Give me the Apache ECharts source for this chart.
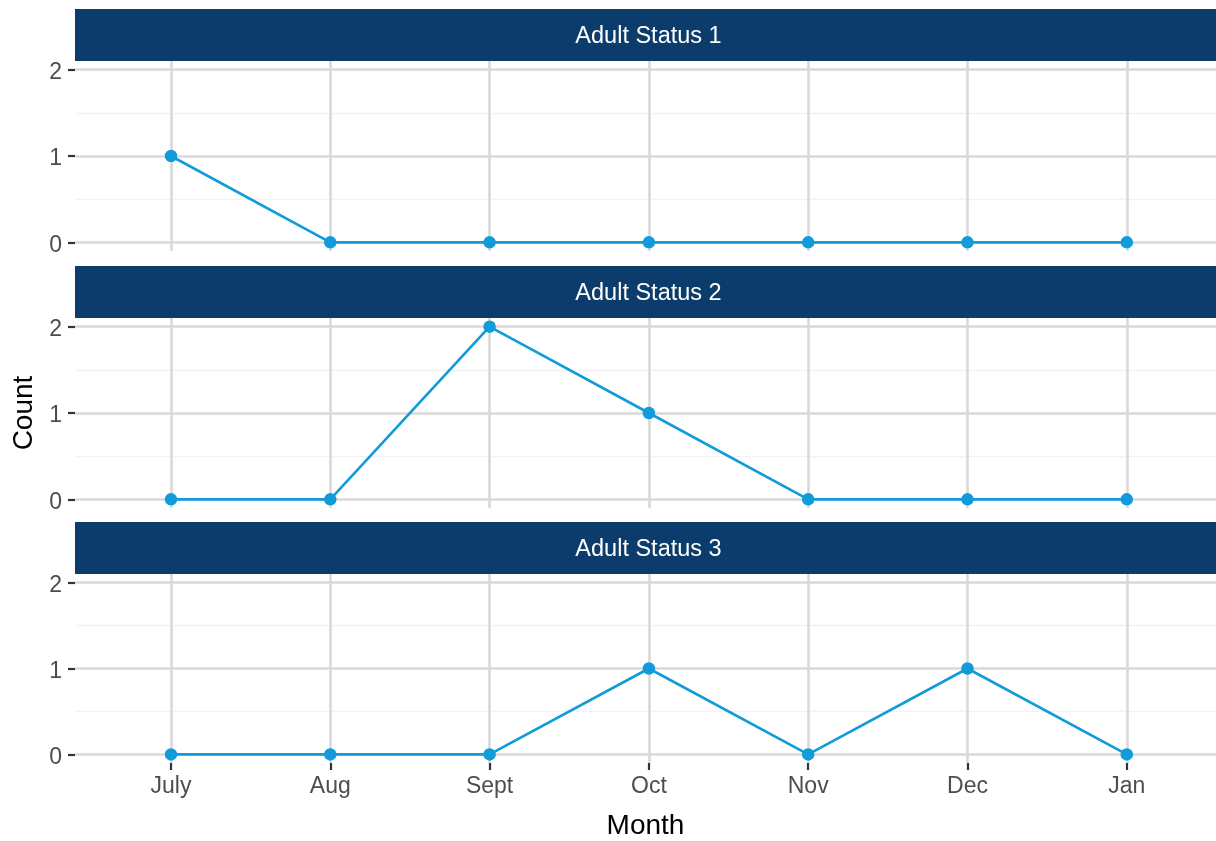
<!DOCTYPE html>
<html>
<head>
<meta charset="utf-8">
<script src="https://cdn.jsdelivr.net/npm/echarts@6/dist/echarts.min.js"></script>
<style>
html,body{margin:0;padding:0;background:#fff;}
#chart{width:1216px;height:841px;}
</style>
</head>
<body>
<div id="chart"></div>
<script>
// ---- data ----
var months = ['July', 'Aug', 'Sept', 'Oct', 'Nov', 'Dec', 'Jan'];
var panelTitles = ['Adult Status 1', 'Adult Status 2', 'Adult Status 3'];
var status1 = [1, 0, 0, 0, 0, 0, 0];
var status2 = [0, 0, 2, 1, 0, 0, 0];
var status3 = [0, 0, 0, 1, 0, 1, 0];
var yTicks = [0, 1, 2];
var yMinor = [0.5, 1.5];

var seriesValues = [status1, status2, status3];
var xIdx = months.map(function (m, i) { return i; });

// ---- layout ----
var FONT = '"Liberation Sans", Arial, Helvetica, sans-serif';
var LEFT = 75, PH = 190, STRIP = 52;
var tops = [61, 318, 574];
var LINE = '#129BDA';
var STRIP_COL = '#0B3C6C';

var grids = [], xAxes = [], yAxes = [], series = [], graphics = [];

tops.forEach(function (top, p) {
  var bottomPanel = p === tops.length - 1;
  grids.push({ left: LEFT, top: top, right: 0, height: PH, containLabel: false });
  xAxes.push({
    type: 'value', gridIndex: p, min: -0.6025, max: 6.56,
    axisLine: { show: false, onZero: false },
    splitLine: { show: false },
    axisTick: { show: bottomPanel, customValues: xIdx, length: 7, lineStyle: { color: '#333333', width: 2.2 } },
    axisLabel: {
      show: bottomPanel, customValues: xIdx, margin: 12,
      color: '#4D4D4D', fontSize: 23, fontFamily: FONT,
      formatter: function (v) { return months[Math.round(v)] || ''; }
    },
    name: bottomPanel ? 'Month' : '',
    nameLocation: 'middle', nameGap: 49,
    nameTextStyle: { color: '#000', fontSize: 28, fontFamily: FONT }
  });
  yAxes.push({
    type: 'value', gridIndex: p, min: -0.1, max: 2.1,
    axisLine: { show: false, onZero: false },
    splitLine: { show: false },
    axisTick: { show: true, customValues: yTicks, length: 7, lineStyle: { color: '#333333', width: 2.2 } },
    axisLabel: {
      customValues: yTicks, margin: 13,
      color: '#4D4D4D', fontSize: 23, fontFamily: FONT,
      formatter: function (v) { return '{v|' + Math.round(v) + '}'; },
      rich: { v: { color: '#4D4D4D', fontSize: 23, fontFamily: FONT, padding: [6, 0, 0, 0] } }
    },
    name: p === 1 ? 'Count' : '',
    nameLocation: 'middle', nameGap: 37, nameRotate: 90,
    nameTextStyle: { color: '#000', fontSize: 28, fontFamily: FONT }
  });

  // gridlines via markLine on a background series
  var ml = [];
  yMinor.forEach(function (v) { ml.push({ yAxis: v, lineStyle: { color: '#F2F2F2', width: 1.4, type: 'solid' } }); });
  yTicks.forEach(function (v) { ml.push({ yAxis: v, lineStyle: { color: '#D9D9D9', width: 2.6, type: 'solid' } }); });
  xIdx.forEach(function (v) { ml.push({ xAxis: v, lineStyle: { color: '#D9D9D9', width: 2.6, type: 'solid' } }); });
  series.push({
    type: 'line', xAxisIndex: p, yAxisIndex: p, z: 1,
    data: [[0, 0]], symbol: 'none', lineStyle: { opacity: 0 }, silent: true,
    markLine: {
      silent: true, symbol: ['none', 'none'], label: { show: false },
      animation: false, lineStyle: { type: 'solid' }, data: ml
    }
  });

  series.push({
    type: 'line', xAxisIndex: p, yAxisIndex: p, z: 5,
    data: seriesValues[p].map(function (v, i) { return [i, v]; }),
    symbol: 'circle', symbolSize: 12.5,
    itemStyle: { color: LINE },
    lineStyle: { color: LINE, width: 2.6 },
    clip: false
  });

  graphics.push({
    type: 'rect', left: LEFT, top: top - STRIP,
    shape: { width: 1216 - LEFT, height: STRIP },
    style: { fill: STRIP_COL }, silent: true
  });
  graphics.push({
    type: 'text', x: 648.5, y: top - STRIP / 2 + 2,
    style: {
      text: panelTitles[p], fill: '#FFFFFF', font: '23.5px ' + FONT,
      align: 'center', verticalAlign: 'middle'
    }, silent: true
  });
});

var chart = echarts.init(document.getElementById('chart'), null, { renderer: 'canvas' });
chart.setOption({
  animation: false,
  backgroundColor: '#FFFFFF',
  grid: grids, xAxis: xAxes, yAxis: yAxes, series: series,
  graphic: graphics
});
</script>
</body>
</html>
